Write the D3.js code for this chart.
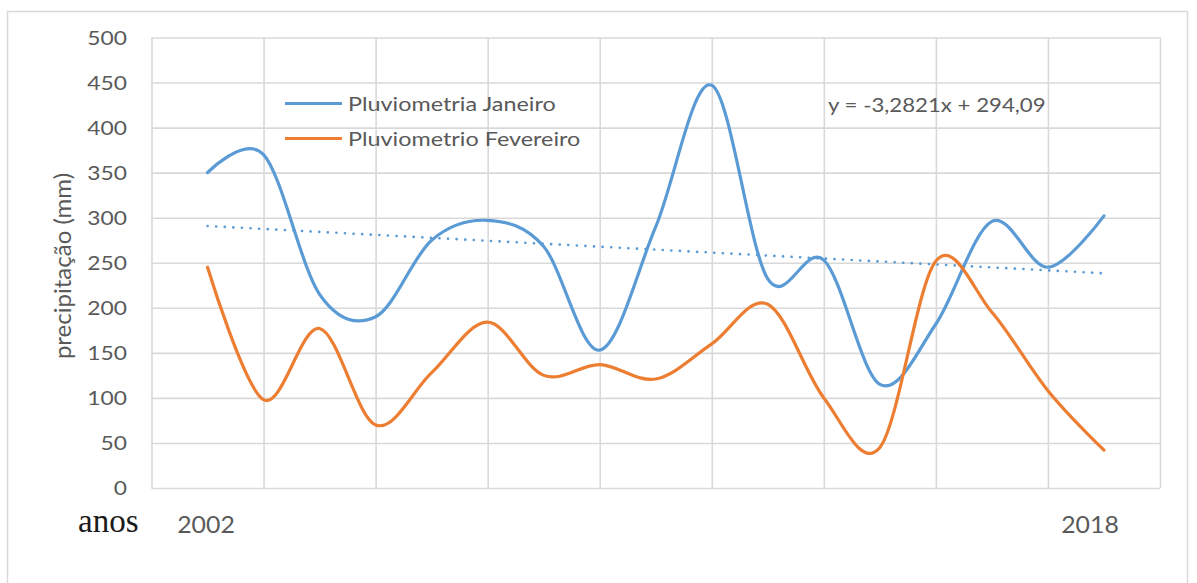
<!DOCTYPE html>
<html>
<head>
<meta charset="utf-8">
<script src="https://cdn.jsdelivr.net/npm/d3@7/dist/d3.min.js"></script>
<style>
  html, body { margin: 0; padding: 0; background: #ffffff; }
  svg { display: block; }
</style>
</head>
<body>
<svg id="chart" width="1197" height="583"></svg>
<script>
// Monthly rainfall (mm), 2002–2018
const years = [2002, 2003, 2004, 2005, 2006, 2007, 2008, 2009, 2010, 2011, 2012, 2013, 2014, 2015, 2016, 2017, 2018];
const janeiro   = [350, 370, 215, 190, 275, 297, 268, 153, 290, 447, 232, 253, 115, 182, 296, 245, 302];
const fevereiro = [245, 98, 177, 70, 128, 184, 125, 137, 121, 160, 204, 100, 45, 252, 195, 108, 42];

// Linear trend of the January series (x = 1 for the first year)
const trendSlope = -3.2821;
const trendIntercept = 294.09;
const trendLabel = "y = -3,2821x + 294,09";

const seriesNames = ["Pluviometria Janeiro", "Pluviometrio Fevereiro"];
const yTicks = [0, 50, 100, 150, 200, 250, 300, 350, 400, 450, 500];
const xGridYears = [2001, 2003, 2005, 2007, 2009, 2011, 2013, 2015, 2017, 2019];
const yearLabels = ["2002", "2018"];
const yTitle = "precipitação (mm)";
const xTitle = "anos";

const BLUE = "#5b9bd5";
const ORANGE = "#ed7d31";
const GRID = "#d9d9d9";
const TEXT = "#595959";
const SANS = "Lato, 'Open Sans', sans-serif";
const SX = 1.17; // horizontal stretch applied to the sans labels

const svg = d3.select("#chart");

const plot = { left: 151.5, right: 1160, top: 37.5, bottom: 488 };

const x = d3.scaleLinear().domain([2001, 2019]).range([plot.left, plot.right]);
const y = d3.scaleLinear().domain([0, 500]).range([plot.bottom, plot.top]);

// outer chart frame
svg.append("rect")
  .attr("x", 7.5).attr("y", 11.5)
  .attr("width", 1180).attr("height", 620)
  .attr("fill", "none").attr("stroke", GRID).attr("stroke-width", 1.5);

// gridlines
const grid = svg.append("g");
grid.append("g")
  .attr("transform", `translate(${plot.left},0)`)
  .call(d3.axisLeft(y).tickValues(yTicks).tickSize(-(plot.right - plot.left)).tickFormat(""))
  .call(g => g.select(".domain").remove())
  .call(g => g.selectAll("line").attr("stroke", GRID).attr("stroke-width", 1.6));
grid.append("g")
  .attr("transform", `translate(0,${plot.bottom})`)
  .call(d3.axisBottom(x).tickValues(xGridYears).tickSize(-(plot.bottom - plot.top)).tickFormat(""))
  .call(g => g.select(".domain").remove())
  .call(g => g.selectAll("line").attr("stroke", GRID).attr("stroke-width", 1.6));

// y tick labels
svg.append("g").selectAll("text")
  .data(yTicks)
  .join("text")
  .attr("transform", d => `translate(127,${y(d)}) scale(${SX},1)`)
  .attr("dy", "0.36em")
  .attr("text-anchor", "end")
  .attr("font-family", SANS)
  .attr("font-size", 19.5)
  .attr("fill", TEXT)
  .text(d => d);

// y axis title
svg.append("text")
  .attr("transform", `translate(71,266) rotate(-90)`)
  .attr("text-anchor", "middle")
  .attr("font-family", SANS)
  .attr("font-size", 24)
  .attr("fill", TEXT)
  .text(yTitle);

// x axis labels
svg.append("text")
  .attr("x", 78).attr("y", 532)
  .attr("font-family", "'Liberation Serif', 'DejaVu Serif', serif")
  .attr("font-size", 33)
  .attr("fill", "#1a1a1a")
  .text(xTitle);

svg.append("g").selectAll("text")
  .data([[yearLabels[0], 206], [yearLabels[1], 1090]])
  .join("text")
  .attr("transform", d => `translate(${d[1]},533) scale(1.08,1)`)
  .attr("text-anchor", "middle")
  .attr("font-family", SANS)
  .attr("font-size", 23)
  .attr("fill", TEXT)
  .text(d => d[0]);

// trend line of January
const trendPts = [years[0], years[years.length - 1]].map(yr => {
  const i = yr - years[0] + 1;
  return [yr, trendSlope * i + trendIntercept];
});
svg.append("path")
  .datum(trendPts)
  .attr("d", d3.line().x(d => x(d[0])).y(d => y(d[1])))
  .attr("fill", "none")
  .attr("stroke", BLUE)
  .attr("stroke-width", 2.6)
  .attr("stroke-linecap", "round")
  .attr("stroke-dasharray", "0.1 8.5");

// smoothed series
const line = d3.line()
  .x(d => x(d[0]))
  .y(d => y(d[1]))
  .curve(d3.curveCardinal.tension(0));

const series = [
  { name: seriesNames[0], values: janeiro, color: BLUE },
  { name: seriesNames[1], values: fevereiro, color: ORANGE }
];

svg.append("g").selectAll("path")
  .data(series)
  .join("path")
  .attr("d", s => line(years.map((yr, i) => [yr, s.values[i]])))
  .attr("fill", "none")
  .attr("stroke", s => s.color)
  .attr("stroke-width", 3.2)
  .attr("stroke-linejoin", "round")
  .attr("stroke-linecap", "round");

// legend
const legend = svg.append("g").selectAll("g")
  .data(series)
  .join("g")
  .attr("transform", (d, i) => `translate(285,${103.5 + i * 35})`);
legend.append("line")
  .attr("x1", 0).attr("x2", 57)
  .attr("stroke", d => d.color)
  .attr("stroke-width", 3);
legend.append("text")
  .attr("transform", `translate(63,0) scale(${SX},1)`)
  .attr("dy", "0.36em")
  .attr("font-family", SANS)
  .attr("font-size", 20)
  .attr("fill", TEXT)
  .text(d => d.name);

// trend equation
svg.append("text")
  .attr("transform", `translate(828,105) scale(${SX},1)`)
  .attr("dy", "0.36em")
  .attr("font-family", SANS)
  .attr("font-size", 19)
  .attr("fill", TEXT)
  .text(trendLabel);
</script>
</body>
</html>
